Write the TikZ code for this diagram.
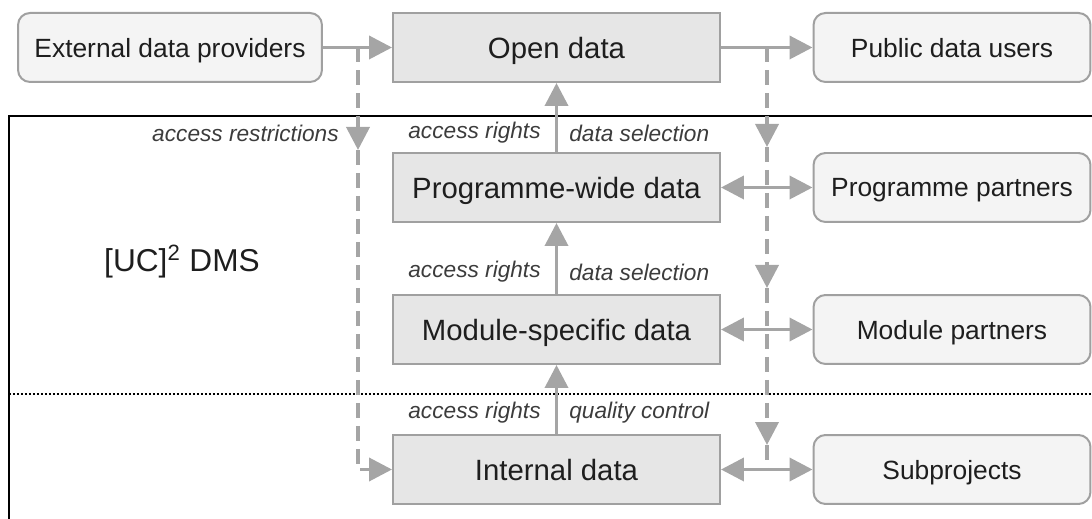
\documentclass[tikz,border=0pt]{standalone}
\usepackage{fontspec}
\setmainfont{Liberation Sans}
\usetikzlibrary{arrows.meta}
\definecolor{linegray}{RGB}{165,165,165}
\definecolor{boxgray}{RGB}{160,160,160}
\definecolor{storefill}{RGB}{230,230,230}
\definecolor{partyfill}{RGB}{244,244,244}
\definecolor{textgray}{RGB}{30,30,30}
\definecolor{lblgray}{RGB}{60,60,60}
\begin{document}
\begin{tikzpicture}[x=0.02cm,y=-0.02cm,
    store/.style={draw=boxgray,line width=0.04cm,fill=storefill,minimum height=1.38cm,
      inner sep=0pt,text depth=0pt,text=textgray,font=\fontsize{16.7}{20}\selectfont},
    party/.style={store,fill=partyfill,rounded corners=0.24cm,font=\fontsize{15}{18}\selectfont},
    lbl/.style={inner sep=0pt,text=lblgray,font=\fontsize{12.9}{15}\selectfont\itshape},
    flow/.style={draw=linegray,line width=0.075cm,-{Triangle[length=0.46cm,width=0.46cm]}},
    twoway/.style={flow,{Triangle[length=0.46cm,width=0.46cm]}-{Triangle[length=0.46cm,width=0.46cm]}},
    restrict/.style={flow,dash pattern=on 0.3cm off 0.16cm},
    plain/.style={restrict,-}]
  \useasboundingbox (0,0) rectangle (1092,519);
  % DMS frame and level divider
  \draw[line width=0.05cm] (9,540) -- (9,116) -- (1110,116);
  \draw[line width=0.045cm,dash pattern=on 0.04cm off 0.04cm] (9,394) -- (1092,394);
  \node[font=\fontsize{18}{22}\selectfont,text=textgray] (dms) at (182,262) {[UC]\textsuperscript{2} DMS};
  % data stores and parties
  \draw
    (170,47.5) node[party,minimum width=6.08cm] (ext){External data providers}
    (556.5,47.5) node[store,minimum width=6.54cm] (open){Open data}
    (952,47.5) node[party,minimum width=5.54cm] (pub){Public data users}
    (556.5,187.5) node[store,minimum width=6.54cm] (prog){Programme-wide data}
    (952,187.5) node[party,minimum width=5.54cm] (progp){Programme partners}
    (556.5,329.5) node[store,minimum width=6.54cm] (mod){Module-specific data}
    (952,329.5) node[party,minimum width=5.54cm] (modp){Module partners}
    (556.5,469.5) node[store,minimum width=6.54cm] (int){Internal data}
    (952,469.5) node[party,minimum width=5.54cm] (sub){Subprojects};
  % labels on the upward flows
  \node[lbl,anchor=east] (ar) at (339,133) {access restrictions};
  \node[lbl,anchor=east] (r1) at (541,133) {access rights};
  \node[lbl,anchor=west] (s1) at (569,133) {data selection};
  \node[lbl,anchor=east] (r2) at (541,272) {access rights};
  \node[lbl,anchor=west] (s2) at (569,272) {data selection};
  \node[lbl,anchor=east] (r3) at (541,413) {access rights};
  \node[lbl,anchor=west] (q3) at (569,413) {quality control};
  % branch points of the dashed lines
  \coordinate (lsplit) at (358,47.5);
  \coordinate (lmid) at (358,150);
  \coordinate (rsplit) at (767,47.5);
  \coordinate (rmid1) at (767,147);
  \coordinate (rmid2) at (767,288);
  \coordinate (rmid3) at (767,445);
  \coordinate (rjoin) at (767,469.5);
  \begin{scope}
    \draw[restrict] (lsplit) to (lmid);
    \draw[restrict] (lmid) |- (int.west);
    \draw[restrict] (rsplit) to (rmid1);
    \draw[restrict] (rmid1) to (rmid2);
    \draw[restrict] (rmid2) to (rmid3);
    \draw[plain] (rmid3) to (rjoin);
    \draw[flow] (ext) to (open);
    \draw[flow] (open) to (pub);
    \draw[flow] (prog) to (open);
    \draw[flow] (mod) to (prog);
    \draw[flow] (int) to (mod);
    \draw[twoway] (prog) to (progp);
    \draw[twoway] (mod) to (modp);
    \draw[twoway] (int) to (sub);
  \end{scope}
\end{tikzpicture}
\end{document}
